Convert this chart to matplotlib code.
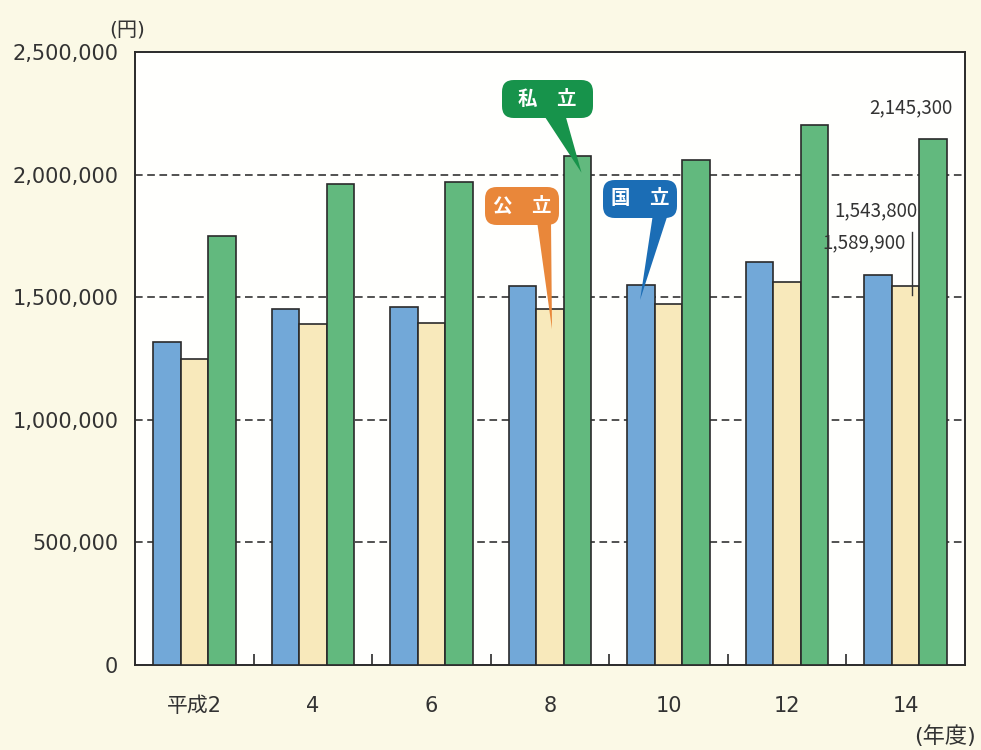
import numpy as np
import matplotlib
matplotlib.use("Agg")
import matplotlib.pyplot as plt
from matplotlib.patches import FancyBboxPatch, Polygon

plt.rcParams['font.family'] = ['DejaVu Sans', 'Noto Sans CJK JP']

years = ['平成2', '4', '6', '8', '10', '12', '14']
kokuritsu = [1316000, 1451000, 1461000, 1546000, 1550000, 1644000, 1589900]
kouritsu = [1247000, 1391000, 1396000, 1451000, 1471000, 1562000, 1543800]
shiritsu = [1750000, 1960000, 1970000, 2077000, 2058000, 2202000, 2145300]
yticks = [0, 500000, 1000000, 1500000, 2000000, 2500000]

c_blue = '#72a8d8'
c_cream = '#f8e9bb'
c_green = '#62b97e'
bg = '#fbf9e6'
txt = '#333333'

fig = plt.figure(figsize=(9.81, 7.5), dpi=100, facecolor=bg)
ax = fig.add_axes([135 / 981, 1 - 665 / 750, 830 / 981, 613 / 750])
ax.set_facecolor('#fffffd')

x = np.arange(len(years))
w = 0.232
ax.bar(x - w, kokuritsu, w, color=c_blue, edgecolor='#2a2a2a', linewidth=1.2, zorder=3)
ax.bar(x, kouritsu, w, color=c_cream, edgecolor='#2a2a2a', linewidth=1.2, zorder=3)
ax.bar(x + w, shiritsu, w, color=c_green, edgecolor='#2a2a2a', linewidth=1.2, zorder=3)

ax.set_xlim(-0.5, 6.5)
ax.set_ylim(0, 2500000)
ax.set_yticks(yticks)
ax.set_yticklabels([f'{v:,}' for v in yticks], fontsize=15, color=txt)
ax.tick_params(axis='y', length=0, pad=12)
ax.set_xticks(x)
ax.set_xticklabels(years, fontsize=15, color=txt)
ax.tick_params(axis='x', which='major', length=0, pad=22)
ax.set_xticks(x[:-1] + 0.5, minor=True)
ax.tick_params(axis='x', which='minor', direction='in', length=8, width=1.2, color='#2a2a2a')
for v in yticks[1:-1]:
    ax.axhline(v, color='#222222', linestyle=(0, (5, 3)), linewidth=1.1, zorder=1)
for s in ax.spines.values():
    s.set_linewidth(1.4)
    s.set_color('#2a2a2a')

fig.text(127 / 981, 1 - 30 / 750, '(円)', fontsize=14.5, color=txt, ha='center', va='center')
fig.text(945 / 981, 1 - 736 / 750, '(年度)', fontsize=16, color=txt, ha='center', va='center')

# values for 平成14
i = len(years) - 1
nf = {'family': ['Noto Sans CJK JP'], 'size': 13.5, 'color': txt}
ax.text(i + 0.39, shiritsu[i] + 126000, f'{shiritsu[i]:,}', ha='right', va='center', **nf)
ax.text(i + 0.10, kouritsu[i] + 308000, f'{kouritsu[i]:,}', ha='right', va='center', **nf)
ax.text(i + 0.0, kokuritsu[i] + 131000, f'{kokuritsu[i]:,}', ha='right', va='center', **nf)
ax.plot([i + 0.05, i + 0.05], [kouritsu[i] - 35000, kouritsu[i] + 222000], color='#333333', lw=1, zorder=4)


def fig_xy(px, py):
    return (px / 981, 1 - py / 750)


def callout(label, box, base, tip_data, tip_off, color):
    x0, y0, x1, y1 = box
    (bx0, by), (bx1, _) = base
    tx, ty = ax.transData.transform(tip_data)
    tx, ty = tx + tip_off[0], ty - tip_off[1]
    tip = fig.transFigure.inverted().transform((tx, ty))
    poly = Polygon([fig_xy(bx0, by - 4), fig_xy(bx1, by - 4), tip], closed=True,
                   transform=fig.transFigure, facecolor=color, edgecolor='none', zorder=6)
    fig.add_artist(poly)
    p0 = fig_xy(x0, y1)
    p1 = fig_xy(x1, y0)
    box_patch = FancyBboxPatch(p0, p1[0] - p0[0], p1[1] - p0[1],
                               boxstyle='round,pad=0,rounding_size=0.012',
                               mutation_aspect=981 / 750,
                               transform=fig.transFigure, facecolor=color,
                               edgecolor='none', zorder=6)
    fig.add_artist(box_patch)
    cx, cy = fig_xy((x0 + x1) / 2, (y0 + y1) / 2)
    fig.text(cx, cy, label, ha='center', va='center', fontsize=14, fontweight='bold',
             color='white', family=['Noto Sans CJK JP'], zorder=7)


callout('私　立', (502, 80, 593, 118), ((543, 118), (565, 118)), (3 + w, shiritsu[3]), (4, 17), '#17934b')
callout('公　立', (485, 187, 559, 225), ((537, 225), (551, 225)), (3, kouritsu[3]), (2, 20), '#e9873a')
callout('国　立', (603, 180, 677, 218), ((653, 218), (668, 218)), (4 - w, kokuritsu[4]), (-1, 15), '#1b6db5')

fig.savefig('out.png', dpi=100, facecolor=bg)
